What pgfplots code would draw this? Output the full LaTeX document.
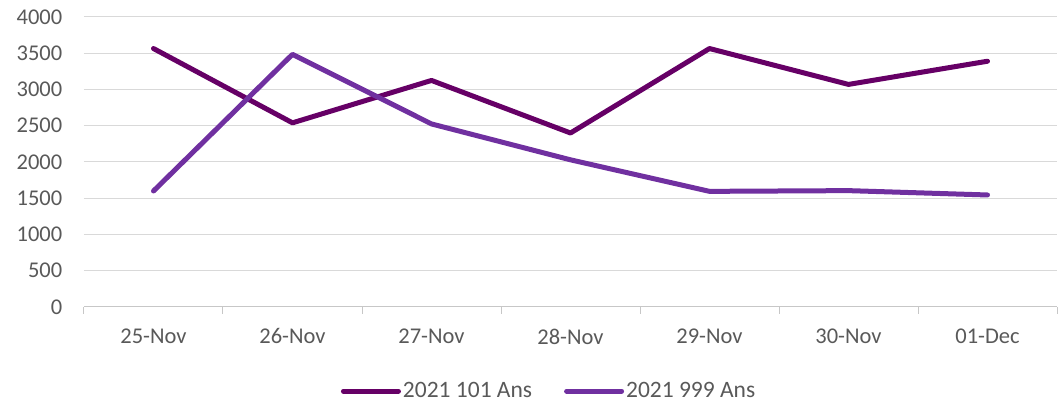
\documentclass[border=0pt]{standalone}
\usepackage{pgfplots}
\pgfplotsset{compat=1.18}
\usepackage{fontspec}
\setmainfont{Carlito}
\definecolor{darkp}{RGB}{102,0,102}
\definecolor{lightp}{RGB}{112,48,160}
\definecolor{tickgray}{RGB}{89,89,89}
\definecolor{gridgray}{RGB}{217,217,217}
\begin{document}
\fontsize{22.5}{27}\selectfont
\begin{tikzpicture}
\begin{axis}[
  scale only axis,
  width=973pt, height=290pt,
  xmin=-0.5, xmax=6.5,
  ymin=0, ymax=4000,
  ytick={0,500,...,4000},
  xtick={0,...,6},
  xticklabels={25-Nov,26-Nov,27-Nov,28-Nov,29-Nov,30-Nov,01-Dec},
  extra x ticks={-0.5,0.5,...,6.5},
  extra x tick labels={},
  extra x tick style={major tick length=7pt, tick style={draw=gridgray!80!gray, line width=1pt}, tick align=outside, grid=none},
  major tick length=0pt,
  separate axis lines,
  axis x line*=bottom,
  axis y line*=left,
  x axis line style={draw=gridgray!80!gray, line width=1pt, -},
  y axis line style={draw=none},
  ymajorgrids,
  grid style={draw=gridgray, line width=1pt},
  tick label style={font=\fontsize{22.5}{27}\selectfont, text=tickgray},
  yticklabel style={xshift=-14pt},
  xticklabel style={yshift=-14pt},
  /pgf/number format/assume math mode=true,
  scaled y ticks=false,
  yticklabel={\pgfmathprintnumber[fixed,1000 sep={}]{\tick}},
  legend columns=2,
  legend style={draw=none, fill=none, at={(0.478,-0.29)}, anchor=center,
    font=\fontsize{23.5}{28}\selectfont, text=tickgray,
    /tikz/every even column/.append style={column sep=30pt}},
  legend image code/.code={\draw[#1] (0pt,0pt) -- (55pt,0pt);},
  clip=false,
]
\addplot[darkp, line width=5pt, line cap=round, line join=round] coordinates {
(0,3565) (1,2540) (2,3125) (3,2400) (4,3565) (5,3070) (6,3390)};
\addlegendentry{2021 101 Ans}
\addplot[lightp, line width=5pt, line cap=round, line join=round] coordinates {
(0,1600) (1,3485) (2,2525) (3,2030) (4,1595) (5,1605) (6,1545)};
\addlegendentry{2021 999 Ans}
\end{axis}
\pgfresetboundingbox
\path ([shift={(-84pt,-98pt)}]current axis.south west) rectangle ([shift={(4pt,17pt)}]current axis.north east);
\end{tikzpicture}
\end{document}
